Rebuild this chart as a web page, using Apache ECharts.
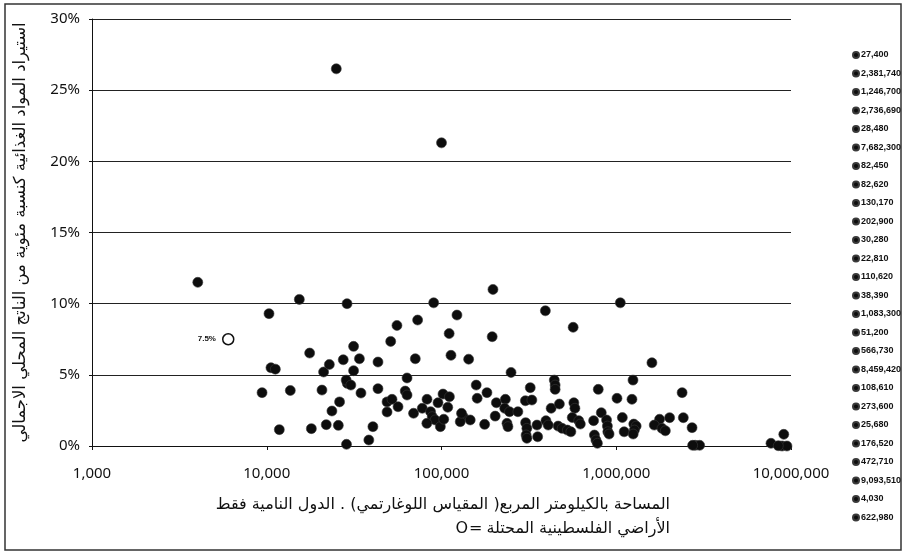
<!DOCTYPE html>
<html><head><meta charset="utf-8">
<script src="https://cdn.jsdelivr.net/npm/echarts@6/dist/echarts.min.js"></script>
<style>html,body{margin:0;padding:0;background:#fff}#c{width:906px;height:559px}</style>
</head><body><div id="c"></div>
<script>
// Legend entries (area, km2) and their food-import share (% of GDP)
const legendNames = ['27,400','2,381,740','1,246,700','2,736,690','28,480','7,682,300','82,450','82,620','130,170','202,900','30,280','22,810','110,620','38,390','1,083,300','51,200','566,730','8,459,420','108,610','273,600','25,680','176,520','472,710','9,093,510','4,030','622,980'];
const legendY = [6.06,3.75,4.63,0.05,4.63,0.19,1.59,3.28,2.3,2.1,4.28,5.73,7.9,0.42,2.0,7.35,8.34,0.02,2.72,2.41,1.45,1.52,2.95,0.82,11.5,1.54];

// Other developing countries: area (km2) and food imports (% of GDP)
const otherX = [25000,100000,15360,28800,90200,10300,122600,55600,73000,31400,17600,113300,33900,70800,43300,10570,11200,21150,31400,63500,28900,43300,9400,13640,20700,34600,62000,63500,48800,52100,26100,56400,23600,48800,69200,11800,18000,21900,40500,28600,197000,195000,143000,250000,158000,182000,322000,302000,329000,102000,111000,95500,77600,160000,206000,232000,230000,245000,86600,88500,92000,98500,103000,133000,146000,128000,237000,240000,303000,308000,305000,308000,352000,355000,393000,1055000,1600000,442000,447000,447000,789000,1010000,1230000,424000,572000,580000,821000,742000,560000,610000,396000,408000,465000,490000,525000,550000,750000,765000,780000,880000,890000,895000,910000,1110000,1260000,1300000,1270000,1250000,1770000,2020000,1650000,1827000,1910000,2420000,2715000,2830000,3000000,8890000,9480000];
const otherY = [26.5,21.3,10.3,10.0,10.06,9.3,9.2,8.47,8.85,7.0,6.53,6.37,6.13,6.13,5.9,5.5,5.4,5.2,5.29,4.78,4.4,4.03,3.75,3.9,3.93,3.72,3.86,3.58,3.1,3.28,3.1,2.76,2.46,2.39,2.3,1.15,1.22,1.5,1.36,0.12,11.0,7.68,6.1,5.17,4.28,3.75,4.1,3.18,3.23,3.65,3.46,3.04,2.65,3.35,3.04,3.28,2.65,2.41,2.41,2.06,1.83,1.36,1.88,2.06,1.83,1.71,1.59,1.36,1.64,1.24,0.77,0.54,1.47,0.65,9.5,10.06,5.85,4.63,4.28,3.98,3.98,3.35,3.28,2.65,3.04,2.65,2.34,1.78,2.0,1.78,1.78,1.47,1.4,1.24,1.12,1.0,0.77,0.42,0.19,1.83,1.4,1.0,0.84,1.0,1.54,1.4,1.12,0.84,1.88,1.99,1.47,1.24,1.07,1.99,1.29,0.05,0.05,0.0,0.0];

// Occupied Palestinian Territory
const palX = [6020];
const palY = [7.5];
const palLabel = '7.5%';

const yTicks = [0,5,10,15,20,25,30];
const yTitle = 'استيراد المواد الغذائية كنسبة مئوية من الناتج المحلي الاجمالي';
const xTitle1 = 'المساحة بالكيلومتر المربع( المقياس اللوغارتمي) . الدول النامية فقط';
const xTitle2 = 'الأراضي الفلسطينية المحتلة';
const markO = 'O';
const markEq = '=';

const arSize = 16;
const arFamily = 'DejaVu Sans';
const mctx = document.createElement('canvas').getContext('2d');
mctx.font = arSize + 'px "' + arFamily + '"';
const wAr = mctx.measureText(xTitle2).width;
const wEq = mctx.measureText(markEq).width;
const wO = mctx.measureText(markO).width;
const titleRight = 670;

const dotColor = '#0d0d0d';
const dotStyle = {color: dotColor, opacity: 1, borderColor: '#3a3a3a', borderWidth: 0.6};
const series = [];
series.push({
  name: 'others', type: 'scatter', symbolSize: 10, itemStyle: dotStyle,
  data: otherX.map((x, i) => [x, otherY[i]])
});
legendNames.forEach((n, i) => {
  series.push({
    name: n, type: 'scatter', symbolSize: 10, itemStyle: dotStyle,
    data: [[Number(n.replace(/,/g, '')), legendY[i]]]
  });
});
series.push({
  name: 'pal', type: 'scatter', symbolSize: 11,
  itemStyle: {color: '#fff', opacity: 1, borderColor: '#111', borderWidth: 1.5},
  label: {show: true, position: 'left', distance: 6, formatter: palLabel, fontSize: 8, fontWeight: 'bold', color: '#111', fontFamily: 'Liberation Sans'},
  data: palX.map((x, i) => [x, palY[i]])
});

const ts = {fontSize: arSize, fontFamily: arFamily, fontWeight: 'normal', color: '#111'};
const chart = echarts.init(document.getElementById('c'), null, {renderer: 'canvas'});
chart.setOption({
  animation: false,
  backgroundColor: '#fff',
  title: [
    {text: xTitle1, right: 906 - titleRight, top: 497, padding: 0, textStyle: ts},
    {text: xTitle2, right: 906 - titleRight, top: 521, padding: 0, textStyle: ts},
    {text: markEq, left: titleRight - wAr - 4 - wEq, top: 521, padding: 0, textStyle: ts},
    {text: markO, left: titleRight - wAr - 4 - wEq - wO - 1, top: 521, padding: 0, textStyle: ts}
  ],
  grid: {left: 92, right: 115, top: 19, bottom: 113},
  legend: {
    data: legendNames, orient: 'vertical', left: 847, top: 44,
    icon: 'circle', itemWidth: 6, itemHeight: 6, itemGap: 6.5,
    selectedMode: false,
    textStyle: {fontSize: 9, fontFamily: 'Liberation Sans', fontWeight: 'bold', color: '#111', padding: [0,0,0,-3], lineHeight: 12}
  },
  xAxis: {
    type: 'log', logBase: 10, min: 1000, max: 10000000,
    axisLine: {lineStyle: {color: '#111', width: 1}},
    axisTick: {show: true, length: 4, lineStyle: {color: '#111'}},
    minorTick: {show: false},
    splitLine: {show: false},
    axisLabel: {fontSize: 15, color: '#111', fontFamily: 'Noto Sans', margin: 20,
      formatter: v => Number(v).toLocaleString('en-US')}
  },
  yAxis: {
    type: 'value', min: yTicks[0], max: yTicks[yTicks.length - 1], interval: 5,
    axisLine: {show: true, lineStyle: {color: '#111', width: 1}},
    axisTick: {show: true, length: 3, lineStyle: {color: '#111'}},
    splitLine: {lineStyle: {color: '#222', width: 1.2}},
    axisLabel: {fontSize: 15, color: '#111', fontFamily: 'Noto Sans', margin: 12, formatter: '{value}%'},
    name: yTitle, nameLocation: 'middle', nameGap: 63, nameRotate: 90,
    nameTextStyle: {fontSize: 16.5, color: '#111', fontFamily: 'DejaVu Sans'}
  },
  graphic: [
    {type: 'rect', shape: {x: 5, y: 4, width: 896, height: 546}, style: {fill: 'none', stroke: '#333', lineWidth: 1.5}, silent: true}
  ],
  series: series
});
</script></body></html>
